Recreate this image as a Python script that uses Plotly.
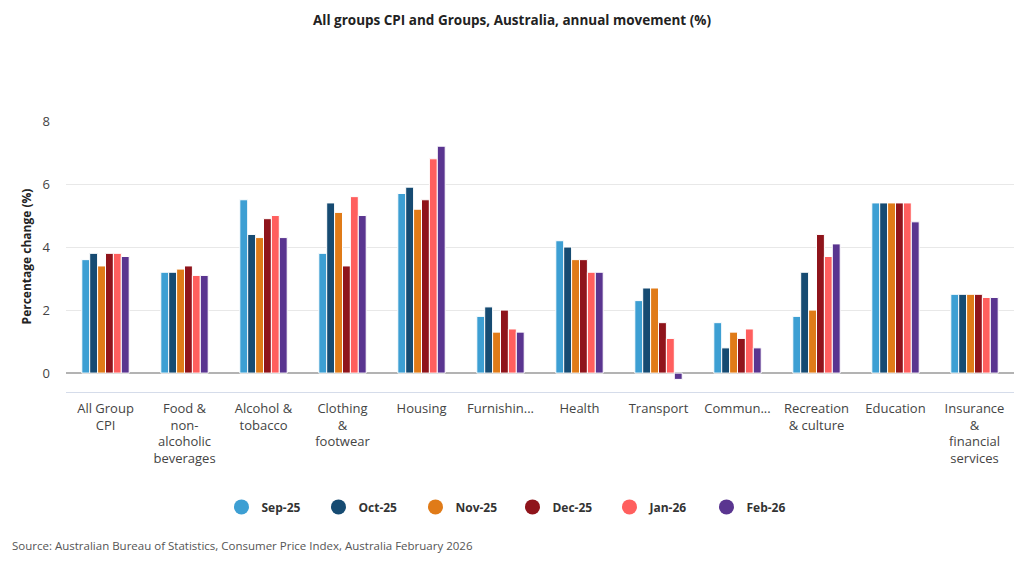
import plotly.graph_objects as go

# Category labels (wrapped like the original axis)
categories = [
    "All Group<br>CPI",
    "Food &<br>non-<br>alcoholic<br>beverages",
    "Alcohol &<br>tobacco",
    "Clothing<br>&<br>footwear",
    "Housing",
    "Furnishin...",
    "Health",
    "Transport",
    "Commun...",
    "Recreation<br>& culture",
    "Education",
    "Insurance<br>&<br>financial<br>services",
]

months = ["Sep-25", "Oct-25", "Nov-25", "Dec-25", "Jan-26", "Feb-26"]

# Annual movement (%) per group, one list per month
sep_25 = [3.6, 3.2, 5.5, 3.8, 5.7, 1.8, 4.2, 2.3, 1.6, 1.8, 5.4, 2.5]
oct_25 = [3.8, 3.2, 4.4, 5.4, 5.9, 2.1, 4.0, 2.7, 0.8, 3.2, 5.4, 2.5]
nov_25 = [3.4, 3.3, 4.3, 5.1, 5.2, 1.3, 3.6, 2.7, 1.3, 2.0, 5.4, 2.5]
dec_25 = [3.8, 3.4, 4.9, 3.4, 5.5, 2.0, 3.6, 1.6, 1.1, 4.4, 5.4, 2.5]
jan_26 = [3.8, 3.1, 5.0, 5.6, 6.8, 1.4, 3.2, 1.1, 1.4, 3.7, 5.4, 2.4]
feb_26 = [3.7, 3.1, 4.3, 5.0, 7.2, 1.3, 3.2, -0.2, 0.8, 4.1, 4.8, 2.4]

series = [sep_25, oct_25, nov_25, dec_25, jan_26, feb_26]
colors = ["#3D9FD3", "#164B72", "#E07B18", "#8F141B", "#FF5F5E", "#5A3590"]

FONT = "Open Sans, Noto Sans, sans-serif"

fig = go.Figure()

for name, vals, col in zip(months, series, colors):
    fig.add_trace(
        go.Bar(
            x=categories,
            y=vals,
            name=name,
            marker=dict(color=col, line=dict(color="white", width=1)),
            showlegend=False,
            legendgroup=name,
        )
    )

# circle markers for the legend
for name, col in zip(months, colors):
    fig.add_trace(
        go.Scatter(
            x=[None],
            y=[None],
            mode="markers",
            name=name,
            legendgroup=name,
            marker=dict(color=col, size=15, symbol="circle"),
        )
    )

# page body adds an 8px margin, so the figure is 16px smaller than the window
fig.update_layout(
    width=1008,
    height=553,
    paper_bgcolor="white",
    plot_bgcolor="white",
    margin=dict(l=58, r=2, t=113, b=169),
    barmode="group",
    bargap=0.4,
    bargroupgap=0.0,
    font=dict(family=FONT, size=13, color="#444444"),
    title=dict(
        text="<b>All groups CPI and Groups, Australia, annual movement (%)</b>",
        x=0.5,
        xanchor="center",
        y=0.978,
        yanchor="middle",
        font=dict(family=FONT, size=13.5, color="#222222"),
    ),
    legend=dict(
        orientation="h",
        x=0.164,
        xanchor="left",
        y=-0.424,
        yanchor="middle",
        entrywidth=52,
        font=dict(family=FONT, size=12, color="#333333", weight="bold"),
        itemsizing="trace",
    ),
    annotations=[
        dict(
            text="Source: Australian Bureau of Statistics, Consumer Price Index, Australia February 2026",
            xref="paper",
            yref="paper",
            x=-0.059,
            y=-0.565,
            xanchor="left",
            yanchor="middle",
            showarrow=False,
            font=dict(family=FONT, size=11.5, color="#555555"),
        )
    ],
)

fig.update_xaxes(
    showgrid=False,
    showline=True,
    linecolor="#D5DCEA",
    linewidth=1,
    ticks="",
    ticklabelstandoff=4,
    tickfont=dict(family=FONT, size=13, color="#444444"),
    tickangle=0,
    automargin=False,
)

fig.update_yaxes(
    range=[-0.6, 8],
    tickvals=[0, 2, 4, 6, 8],
    showgrid=True,
    gridcolor="#E8E8E8",
    gridwidth=1,
    zeroline=True,
    zerolinecolor="#B3B3B3",
    zerolinewidth=2,
    showline=False,
    ticks="",
    ticklabelstandoff=15,
    tickfont=dict(family=FONT, size=13, color="#444444"),
    title=dict(
        text="<b>Percentage change (%)</b>",
        font=dict(family=FONT, size=12, color="#222222"),
        standoff=8,
    ),
    automargin=False,
)

fig.write_html("out.html")
